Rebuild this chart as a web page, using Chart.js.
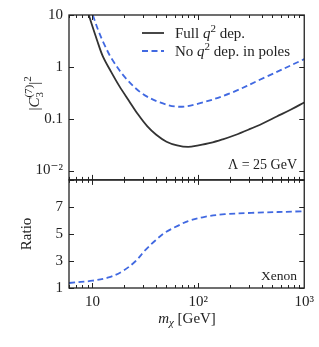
<!DOCTYPE html>
<html>
<head>
<meta charset="utf-8">
<script src="https://cdn.jsdelivr.net/npm/chart.js@4.4.1/dist/chart.umd.min.js"></script>
<style>
  html, body { margin: 0; padding: 0; background: #fff; overflow: hidden; }
</style>
</head>
<body>
<canvas id="wcChart" width="319" height="347"></canvas>
<script>
// values
var massFull  = [9.23, 10, 11, 12.5, 15, 18, 22, 27, 33, 40, 50, 63, 80, 100, 130, 170, 220, 300, 400, 550, 750, 1000];
var c3Full    = [10, 5.98, 3.34, 1.61, 0.80, 0.42, 0.225, 0.12, 0.071, 0.049, 0.036, 0.0305, 0.0285, 0.0305, 0.034, 0.040, 0.048, 0.062, 0.080, 0.110, 0.150, 0.206];
var massPoles = [10.07, 11.45, 13.05, 15.3, 20.4, 29.2, 43.4, 65, 100, 198, 421, 1000];
var c3Poles   = [10, 4.8, 2.6, 1.4, 0.62, 0.31, 0.206, 0.17, 0.195, 0.307, 0.62, 1.41];
var massRatio = [6, 10, 14.2, 19, 25.3, 31.5, 39, 48.4, 64.6, 80, 115, 178, 317, 1000];
var ratio     = [1.37, 1.54, 1.78, 2.22, 2.96, 3.8, 4.5, 5.1, 5.62, 5.95, 6.27, 6.46, 6.56, 6.68];

var xTicks = [10, 100, 1000];
var xTickLabels = ['10', '10²', '10³'];
var topTicks = [0.01, 0.1, 1, 10];
var topTickLabels = ['10⁻²', '0.1', '1', '10'];
var ratioTicks = [1, 3, 5, 7];
var ratioTickLabels = ['1', '3', '5', '7'];

var SERIF = '"Liberation Serif", "DejaVu Serif", serif';
var INK = '#222';
var BLUE = '#4169e1';

function pts(xs, ys) {
    return xs.map(function (x, i) { return { x: x, y: ys[i] }; });
}

function fixedTicks(values) {
    return function (scale) {
        scale.ticks = values.map(function (v) { return { value: v }; });
    };
}

function tickLabel(values, labels) {
    return function (v) {
        var i = values.indexOf(v);
        return i < 0 ? '' : labels[i];
    };
}

// draws text made of several runs (italic, raised, lowered pieces)
function drawRuns(ctx, runs, x, y, align) {
    var total = 0;
    runs.forEach(function (r) {
        ctx.font = r.font;
        r.w = r.w0 !== undefined ? r.w0 : ctx.measureText(r.text).width;
        total += r.w;
    });
    var cx = align === 'right' ? x - total : align === 'center' ? x - total / 2 : x;
    runs.forEach(function (r) {
        ctx.font = r.font;
        ctx.fillText(r.text, cx, y + (r.dy || 0));
        if (r.under) {
            ctx.font = r.under.font;
            ctx.fillText(r.under.text, cx, y + r.under.dy);
        }
        cx += r.w;
    });
}

function f(size, style) {
    return (style ? style + ' ' : '') + size + 'px ' + SERIF;
}

var decorations = {
    id: 'decorations',
    afterDraw: function (chart) {
        var ctx = chart.ctx;
        var x = chart.scales.x, yt = chart.scales.yTop, yb = chart.scales.yBot;
        var left = chart.chartArea.left, right = chart.chartArea.right;
        ctx.save();

        // frames
        ctx.strokeStyle = INK;
        ctx.lineWidth = 1.3;
        [yt, yb].forEach(function (y) {
            ctx.strokeRect(left, y.top, right - left, y.bottom - y.top);
        });

        // inward ticks on the x axis, both panels, top and bottom
        ctx.lineWidth = 1;
        ctx.beginPath();
        [1, 10, 100].forEach(function (d) {
            for (var k = 1; k <= 9; k++) {
                var v = k * d;
                if (v < 6 || v > 1000) continue;
                var len = k === 1 ? 5 : 3;
                var px = Math.round(x.getPixelForValue(v)) + 0.5;
                [yt, yb].forEach(function (y) {
                    ctx.moveTo(px, y.top); ctx.lineTo(px, y.top + len);
                    ctx.moveTo(px, y.bottom); ctx.lineTo(px, y.bottom - len);
                });
            }
        });
        // inward ticks on the y axes, left and right
        function yMarks(scale, values) {
            values.forEach(function (v) {
                var py = Math.round(scale.getPixelForValue(v)) + 0.5;
                ctx.moveTo(left, py); ctx.lineTo(left + 5, py);
                ctx.moveTo(right, py); ctx.lineTo(right - 5, py);
            });
        }
        yMarks(yt, topTicks);
        yMarks(yb, ratioTicks.concat([9]));
        ctx.stroke();

        ctx.fillStyle = INK;
        ctx.textBaseline = 'alphabetic';

        // legend
        var ly = [33, 51];
        ctx.lineWidth = 1.8;
        ctx.strokeStyle = '#333';
        ctx.beginPath(); ctx.moveTo(142, ly[0]); ctx.lineTo(164, ly[0]); ctx.stroke();
        ctx.strokeStyle = BLUE;
        ctx.setLineDash([6, 3.5]);
        ctx.beginPath(); ctx.moveTo(142, ly[1]); ctx.lineTo(164, ly[1]); ctx.stroke();
        ctx.setLineDash([]);

        drawRuns(ctx, [
            { text: 'Full ', font: f(15) },
            { text: 'q', font: f(15, 'italic') },
            { text: '2', font: f(11), dy: -6 },
            { text: ' dep.', font: f(15) }
        ], 175, ly[0] + 4.5, 'left');
        drawRuns(ctx, [
            { text: 'No ', font: f(15) },
            { text: 'q', font: f(15, 'italic') },
            { text: '2', font: f(11), dy: -6 },
            { text: ' dep. in poles', font: f(15) }
        ], 175, ly[1] + 4.5, 'left');

        // annotations
        drawRuns(ctx, [{ text: 'Λ = 25 GeV', font: f(14) }], 297, 168.5, 'right');
        drawRuns(ctx, [{ text: 'Xenon', font: f(13.5) }], 297, 280, 'right');

        // x axis title
        drawRuns(ctx, [
            { text: 'm', font: f(15, 'italic') },
            { text: 'χ', font: f(11, 'italic'), dy: 3 },
            { text: ' [GeV]', font: f(15) }
        ], 187, 323, 'center');

        // top y axis title, rotated
        ctx.save();
        ctx.translate(39, (yt.top + yt.bottom) / 2 - 4);
        ctx.rotate(-Math.PI / 2);
        ctx.font = f(11);
        var w7 = ctx.measureText('(7)').width;
        drawRuns(ctx, [
            { text: '|', font: f(15) },
            { text: 'C', font: f(15, 'italic') },
            { text: '(7)', font: f(11), dy: -7, w0: w7, under: { text: '3', font: f(11), dy: 4 } },
            { text: '|', font: f(15) },
            { text: '2', font: f(11), dy: -8 }
        ], 0, 0, 'center');
        ctx.restore();

        ctx.restore();
    }
};

var tickFont = { family: SERIF, size: 15 };

new Chart(document.getElementById('wcChart'), {
    type: 'line',
    data: {
        datasets: [
            {
                label: 'Full q² dep.',
                data: pts(massFull, c3Full),
                yAxisID: 'yTop',
                borderColor: '#333',
                borderWidth: 1.8,
                pointRadius: 0,
                tension: 0.35,
                fill: false
            },
            {
                label: 'No q² dep. in poles',
                data: pts(massPoles, c3Poles),
                yAxisID: 'yTop',
                borderColor: BLUE,
                borderWidth: 1.8,
                borderDash: [6, 3.5],
                pointRadius: 0,
                tension: 0.35,
                fill: false
            },
            {
                label: 'Ratio',
                data: pts(massRatio, ratio),
                yAxisID: 'yBot',
                borderColor: BLUE,
                borderWidth: 1.8,
                borderDash: [6, 3.5],
                pointRadius: 0,
                tension: 0.35,
                fill: false
            }
        ]
    },
    options: {
        responsive: false,
        animation: false,
        devicePixelRatio: 1,
        layout: { padding: { top: 14, right: 14, left: 0, bottom: 0 } },
        plugins: { legend: { display: false }, tooltip: { enabled: false } },
        scales: {
            x: {
                type: 'logarithmic',
                position: 'bottom',
                min: 6,
                max: 1000,
                grid: { display: false, drawTicks: false },
                border: { display: false },
                afterBuildTicks: fixedTicks(xTicks),
                afterFit: function (s) { s.height = 59; },
                ticks: {
                    font: tickFont, color: INK, padding: 5,
                    autoSkip: false, maxRotation: 0,
                    callback: tickLabel(xTicks, xTickLabels)
                }
            },
            yBot: {
                type: 'linear',
                position: 'left',
                stack: 'panels',
                stackWeight: 108.5,
                min: 1,
                max: 9,
                grid: { display: false, drawTicks: false },
                border: { display: false },
                afterBuildTicks: fixedTicks(ratioTicks),
                afterFit: function (s) { s.width = 69; },
                ticks: {
                    font: tickFont, color: INK, padding: 6, autoSkip: false,
                    callback: tickLabel(ratioTicks, ratioTickLabels)
                },
                title: {
                    display: true, text: 'Ratio', color: INK,
                    font: { family: SERIF, size: 15 },
                    padding: { top: 18, bottom: 0 }
                }
            },
            yTop: {
                type: 'logarithmic',
                position: 'left',
                stack: 'panels',
                stackWeight: 165.5,
                min: 0.0066,
                max: 10,
                grid: { display: false, drawTicks: false },
                border: { display: false },
                afterBuildTicks: fixedTicks(topTicks),
                afterFit: function (s) { s.width = 69; },
                ticks: {
                    font: tickFont, color: INK, padding: 6, autoSkip: false,
                    callback: tickLabel(topTicks, topTickLabels)
                }
            }
        }
    },
    plugins: [decorations]
});
</script>
</body>
</html>
